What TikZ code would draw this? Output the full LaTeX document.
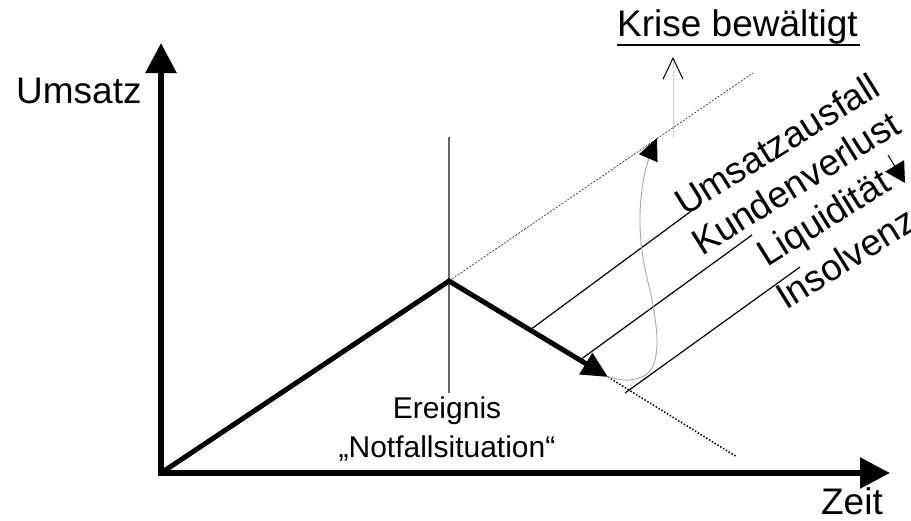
\documentclass[tikz,border=0pt]{standalone}
\usepackage{fontspec}
\setmainfont{Liberation Sans}
\usetikzlibrary{arrows.meta}
\begin{document}
\begin{tikzpicture}[x=1pt,y=-1pt,
  axisline/.style={line width=5.5pt},
  dataline/.style={line width=5pt},
  sepline/.style={line width=1.2pt},
  lbl/.style={inner sep=0pt, text=black, font=\fontsize{37}{40}\selectfont},
  smalllbl/.style={inner sep=0pt, text=black, font=\fontsize{30}{34}\selectfont},
  rotlbl/.style={lbl, anchor=base west, rotate=32}]
\useasboundingbox (0,0) rectangle (911,520);
% key points
\coordinate (O) at (161,473);
\coordinate (ytip) at (161,43);
\coordinate (xtip) at (890,473);
\coordinate (peak) at (449,281);
\coordinate (drop) at (608,377);
\coordinate (dotend) at (737,457);
\coordinate (dashend) at (753,73);
\coordinate (vtop) at (449,137);
\coordinate (vbot) at (449,393);
\coordinate (a1) at (530,330); \coordinate (b1) at (694,209);
\coordinate (a2) at (580,360); \coordinate (b2) at (752,235);
\coordinate (a3) at (625,393); \coordinate (b3) at (800,267);
\coordinate (gs) at (673,137); \coordinate (ge) at (673,57);
\coordinate (ds) at (888,155); \coordinate (de) at (905,183);
\coordinate (ul) at (617,45); \coordinate (ur) at (860,45);
% event line
\draw[gray!80!black, line width=1.2pt] (vtop) -- (vbot);
% upper fine dashed line
\draw[black!80, line width=0.7pt, dash pattern=on 2pt off 1.5pt] (peak) -- (dashend);
% lower dotted line
\draw[black, line width=1.5pt, dash pattern=on 1.5pt off 1.8pt] (drop) -- (dotend);
% separator lines
\draw[sepline] (a1) -- (b1);
\draw[sepline] (a2) -- (b2);
\draw[sepline] (a3) -- (b3);
% axes
\draw[axisline, {Triangle[length=30pt,width=30pt]}-{Triangle[length=30pt,width=30pt]}] (ytip) -- (O) -- (xtip);
% revenue curve
\draw[dataline, -{Triangle[length=26pt,width=24pt]}] (O) -- (peak) -- (drop);
% recovery curve
\draw[gray!70, line width=0.9pt, -{Triangle[length=22pt,width=20pt,color=black]}]
  plot[smooth, tension=0.6] coordinates {(608,377) (630,380) (650,371) (657,345) (653,305) (643,258) (640,215) (645,172) (657,138)};
% grey arrow to "Krise bewältigt"
\draw[gray!50, line width=1pt, dash pattern=on 3pt off 1pt, -{Straight Barb[length=21pt,width=20pt,color=black]}] (gs) -- (ge);
% liquidity down arrow
\draw[line width=1pt, -{Triangle[length=20pt,width=22pt]}] (ds) -- (de);
% underline
\draw[line width=2.5pt] (ul) -- (ur);
% labels
\node[lbl, anchor=base west] (ums) at (16,103) {Umsatz};
\node[lbl, anchor=base west] (krise) at (617,36) {Krise bewältigt};
\node[lbl, anchor=base east] (zeit) at (883,514) {Zeit};
\node[smalllbl, anchor=base] (er) at (447,418) {Ereignis};
\node[smalllbl, anchor=base] (nf) at (447,457) {„Notfallsituation“};
\node[rotlbl] (t1) at (685,217) {Umsatzausfall};
\node[rotlbl] (t2) at (702,257) {Kundenverlust};
\node[rotlbl] (t3) at (767,268) {Liquidität};
\node[rotlbl] (t4) at (786,311) {Insolvenz};
\end{tikzpicture}
\end{document}
